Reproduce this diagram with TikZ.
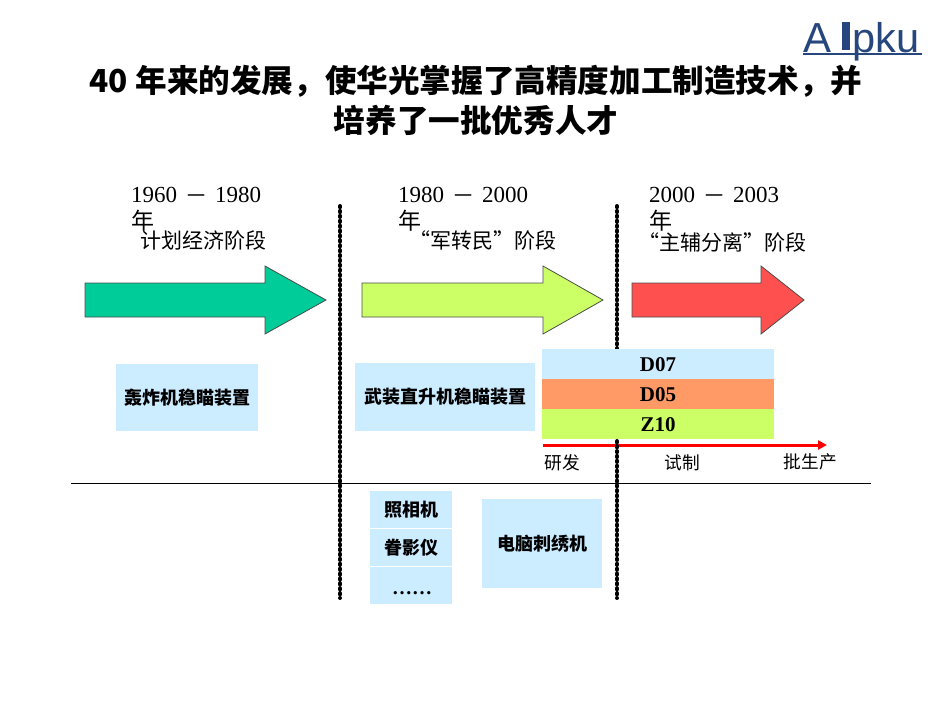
\documentclass[tikz,border=0pt]{standalone}
\usepackage{fontspec}
\setmainfont{Liberation Serif}
\setsansfont{Liberation Sans}
\newfontfamily\cjk{Noto Sans CJK SC}
\usetikzlibrary{positioning,arrows.meta}
\definecolor{stageone}{RGB}{0,204,153}
\definecolor{stagetwo}{RGB}{204,255,102}
\definecolor{stagethree}{RGB}{255,80,80}
\definecolor{boxblue}{RGB}{204,236,255}
\definecolor{bandorange}{RGB}{255,153,102}
\definecolor{logoblue}{RGB}{38,70,125}
\newcommand{\yeardash}{\hspace{10pt}{\cjk\fontsize{18}{26}\selectfont 一}\hspace{10pt}}
\tikzset{
  stagearrow/.style={draw=black!70,line width=.8pt},
  divider/.style={line width=4pt,line cap=round,dash pattern=on 1.2pt off 3.7pt},
  yearlabel/.style={anchor=north west,align=left,inner sep=0pt,font=\fontsize{23}{27}\selectfont},
  stagelabel/.style={inner sep=0pt,font=\cjk\fontsize{21}{24}\selectfont},
  productbox/.style={fill=boxblue,inner sep=0pt,font=\cjk\bfseries\fontsize{18}{20}\selectfont},
  bandbox/.style={minimum width=232pt,minimum height=29.7pt,inner sep=0pt},
  bandlabel/.style={inner sep=0pt,yshift=-1pt,font=\bfseries\fontsize{21}{24}\selectfont},
  phaselabel/.style={inner sep=0pt,font=\cjk\fontsize{17.7}{20}\selectfont}
}
\begin{document}
\begin{tikzpicture}[x=1pt,y=-1pt]
\useasboundingbox (0,0) rectangle (950,713);
% title
\node[align=center,inner sep=0pt,font=\cjk\bfseries\fontsize{31.6}{40}\selectfont] (title) at (476,100)
  {40 年来的发展，使华光掌握了高精度加工制造技术，并\\培养了一批优秀人才};
% logo
\node[inner sep=0pt,font=\sffamily\fontsize{42}{42}\selectfont,text=logoblue,anchor=base west] (logoa) at (803,52) {A};
\fill[logoblue] (842,22) rectangle (850,50);
\node[inner sep=0pt,font=\sffamily\fontsize{41.5}{42}\selectfont,text=logoblue,anchor=base west] (logob) at (852,52) {pku};
\fill[logoblue] (803,52.5) rectangle (922,54.5);
% stage headings
\node[yearlabel] (yearone) at (131,187) {1960\yeardash 1980\\{\cjk 年}};
\node[yearlabel] (yeartwo) at (398,187) {1980\yeardash 2000\\{\cjk 年}};
\node[yearlabel] (yearthree) at (649,187) {2000\yeardash 2003\\{\cjk 年}};
\node[stagelabel] (labelone) at (203,240) {计划经济阶段};
\node[stagelabel] (labeltwo) at (483,240) {“军转民”阶段};
\node[stagelabel] (labelthree) at (722,242) {“主辅分离”阶段};
% arrows
\draw[stagearrow,fill=stageone] (85,283) -- (265,283) -- (265,266) -- (326,300) -- (265,334) -- (265,317) -- (85,317) -- cycle;
\draw[stagearrow,fill=stagetwo] (362,283) -- (543,283) -- (543,266) -- (603,300) -- (543,334) -- (543,317) -- (362,317) -- cycle;
\draw[stagearrow,fill=stagethree] (632,283) -- (761,283) -- (761,266) -- (804,300) -- (761,334) -- (761,317) -- (632,317) -- cycle;
% dividers
\coordinate (divonetop) at (340,206);
\coordinate (divonebot) at (340,598);
\coordinate (divtwotop) at (617,206);
\coordinate (divtwobot) at (617,598);
\coordinate (ruleleft) at (71,483);
\coordinate (ruleright) at (871,483);
\draw[line width=1pt] (ruleleft) -- (ruleright);
% red arrow sits under the second divider
\coordinate (phasestart) at (543,445);
\coordinate (phaseend) at (827,445);
\draw[-{Stealth[length=9pt,width=9pt,inset=0pt]},red,line width=3pt] (phasestart) -- (phaseend);
\draw[divider] (divonetop) -- (divonebot);
\draw[divider] (divtwotop) -- (divtwobot);
% products
\node[productbox,minimum width=142pt,minimum height=67pt] (bomber) at (187,397.5) {轰炸机稳瞄装置};
\node[productbox,minimum width=180pt,minimum height=68pt] (heli) at (445,397) {武装直升机稳瞄装置};
\node[bandbox,fill=boxblue] (dseven) at (658,363.7) {};
\node[bandbox,fill=bandorange,below=0pt of dseven] (dfive) {};
\node[bandbox,fill=stagetwo,below=0pt of dfive] (zten) {};
\node[bandlabel] (dsevenlabel) at (dseven) {D07};
\node[bandlabel] (dfivelabel) at (dfive) {D05};
\node[bandlabel] (ztenlabel) at (zten) {Z10};
\node[phaselabel] (research) at (562.5,463) {研发};
\node[phaselabel] (trial) at (682.5,463) {试制};
\node[phaselabel] (batch) at (810.5,462) {批生产};
% lower boxes
\node[productbox,minimum width=82pt,minimum height=37.2pt] (camera) at (411,509.6) {照相机};
\node[productbox,minimum width=82pt,minimum height=36.2pt,below=.7pt of camera] (enlarger) {眷影仪};
\node[productbox,minimum width=82pt,minimum height=37.2pt,below=.7pt of enlarger] (others) {};
\node[inner sep=0pt,font=\bfseries\fontsize{20}{20}\selectfont] (dots) at (412,593.5) {……};
\node[productbox,minimum width=120pt,minimum height=89pt] (embroider) at (542,543.5) {电脑刺绣机};
\end{tikzpicture}
\end{document}
